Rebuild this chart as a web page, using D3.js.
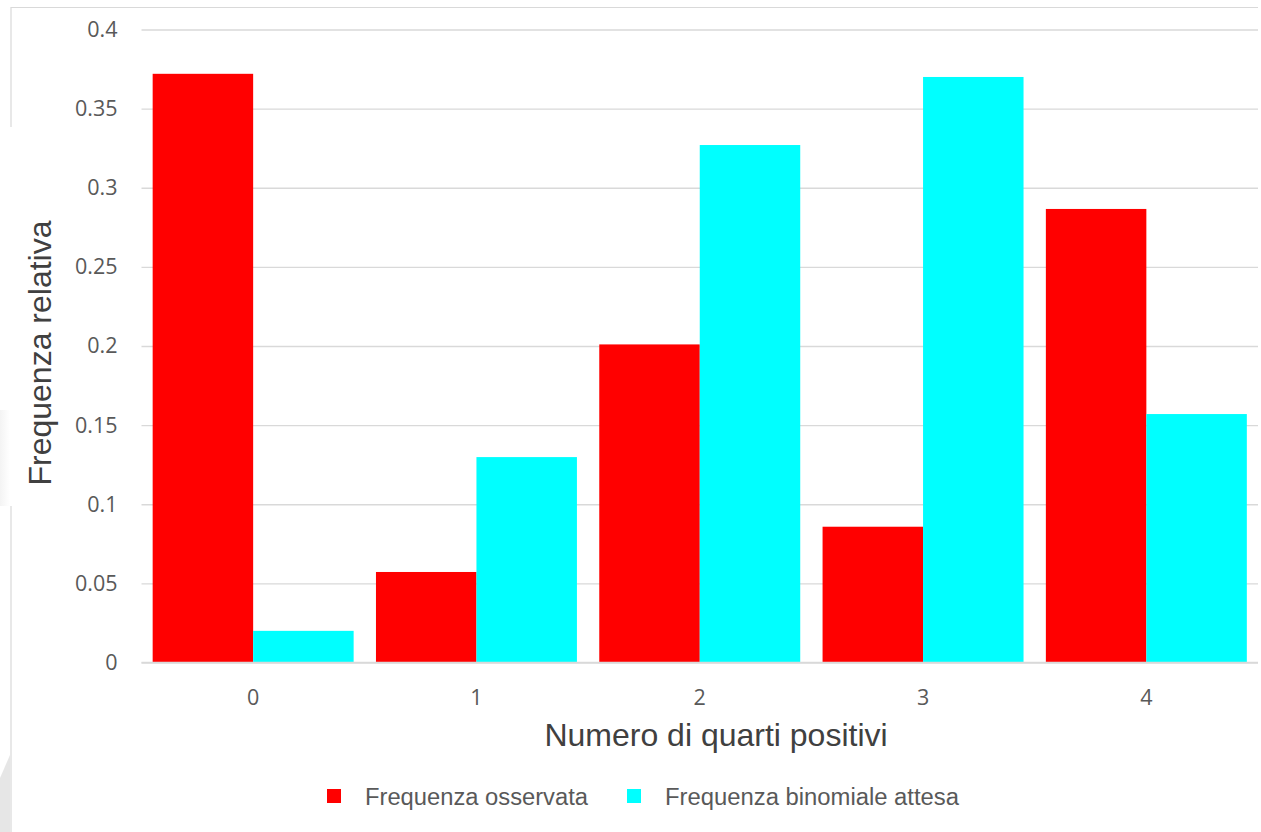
<!DOCTYPE html>
<html>
<head>
<meta charset="utf-8">
<script src="https://cdn.jsdelivr.net/npm/d3@7"></script>
<style>
  html, body { margin: 0; padding: 0; background: #fff; }
  svg { display: block; }
</style>
</head>
<body>
<svg id="chart" width="1261" height="832"></svg>
<script>
// Number of positive quarters, observed vs expected binomial relative frequencies
const categories = ["0", "1", "2", "3", "4"];
const observed = [0.372, 0.0572, 0.201, 0.0858, 0.2866];
const binomial = [0.02, 0.1298, 0.327, 0.370, 0.157];
const yTicks = [0, 0.05, 0.1, 0.15, 0.2, 0.25, 0.3, 0.35, 0.4];
const seriesNames = ["Frequenza osservata", "Frequenza binomiale attesa"];
const seriesColors = ["#ff0000", "#00ffff"];

const W = 1261, H = 832;
const margin = { left: 141.5, right: 3, top: 29.5, bottom: 169.5 };
const svg = d3.select("#chart");

// frame lines around the slide area
const frame = svg.append("g").attr("stroke", "#d9d9d9").attr("stroke-width", 1.2).attr("fill", "none");
frame.append("line").attr("x1", 10.5).attr("x2", 1258).attr("y1", 7.5).attr("y2", 7.5);
frame.append("line").attr("x1", 11).attr("x2", 11).attr("y1", 7.5).attr("y2", 127);
frame.append("line").attr("x1", 11).attr("x2", 11).attr("y1", 506).attr("y2", 832);

// soft grey shading at the left edge
const defs = svg.append("defs");
const grad = defs.append("linearGradient").attr("id", "edge").attr("x1", 0).attr("x2", 1);
grad.append("stop").attr("offset", 0).attr("stop-color", "#ececec");
grad.append("stop").attr("offset", 1).attr("stop-color", "#ffffff");
svg.append("rect").attr("x", 0).attr("y", 410).attr("width", 10).attr("height", 96).attr("fill", "url(#edge)").attr("opacity", 0.6);
svg.append("path").attr("d", "M0,778 L10,755 L10,832 L0,832 Z").attr("fill", "#d6d6d6").attr("opacity", 0.6);

const x = d3.scaleBand()
  .domain(categories)
  .range([margin.left, W - margin.right])
  .paddingInner(0.1)
  .paddingOuter(0.05);

const xs = d3.scaleBand()
  .domain([0, 1])
  .range([0, x.bandwidth()]);

const y = d3.scaleLinear()
  .domain([0, 0.4])
  .range([H - margin.bottom, margin.top]);

const tickFont = "'Open Sans', 'Noto Sans', sans-serif";

// horizontal gridlines
const yAxis = d3.axisLeft(y)
  .tickValues(yTicks)
  .tickSize(-(W - margin.right - margin.left))
  .tickPadding(24)
  .tickFormat(d => String(+d.toFixed(2)));

const gy = svg.append("g")
  .attr("transform", `translate(${margin.left},0)`)
  .call(yAxis);
gy.select(".domain").remove();
gy.selectAll(".tick line").attr("stroke", "#d9d9d9").attr("stroke-width", 1.3);
gy.selectAll(".tick text")
  .attr("fill", "#595959")
  .attr("font-family", tickFont)
  .attr("font-size", 21.5);

// bars
const rows = categories.map((c, i) => ({ cat: c, vals: [observed[i], binomial[i]] }));
const groups = svg.append("g").selectAll("g")
  .data(rows)
  .join("g")
  .attr("transform", d => `translate(${x(d.cat)},0)`);

groups.selectAll("rect")
  .data(d => d.vals.map((v, k) => ({ k, v })))
  .join("rect")
  .attr("x", d => xs(d.k))
  .attr("width", xs.bandwidth())
  .attr("y", d => y(d.v))
  .attr("height", d => y(0) - y(d.v))
  .attr("fill", d => seriesColors[d.k]);

// x axis baseline and labels
const xAxis = d3.axisBottom(x).tickSize(0).tickPadding(27);
const gx = svg.append("g")
  .attr("transform", `translate(0,${y(0)})`)
  .call(xAxis);
gx.select(".domain").attr("stroke", "#d9d9d9").attr("stroke-width", 1.5)
  .attr("d", `M${margin.left},0H${W - margin.right}`);
gx.selectAll(".tick text")
  .attr("fill", "#595959")
  .attr("font-family", tickFont)
  .attr("font-size", 21.5);

// axis titles
svg.append("text")
  .attr("x", 716)
  .attr("y", 746)
  .attr("text-anchor", "middle")
  .attr("fill", "#404040")
  .attr("font-family", "'Liberation Sans', Arial, sans-serif")
  .attr("font-size", 32)
  .text("Numero di quarti positivi");

svg.append("text")
  .attr("transform", "translate(51,353) rotate(-90)")
  .attr("text-anchor", "middle")
  .attr("fill", "#404040")
  .attr("font-family", "'Liberation Sans', Arial, sans-serif")
  .attr("font-size", 32)
  .text("Frequenza relativa");

// legend
const legendX = [327, 627];
const legendLen = [223, 294];
const legend = svg.append("g");
seriesNames.forEach((name, k) => {
  legend.append("rect")
    .attr("x", legendX[k])
    .attr("y", 789)
    .attr("width", 14)
    .attr("height", 14)
    .attr("fill", seriesColors[k]);
  legend.append("text")
    .attr("x", legendX[k] + 38)
    .attr("y", 805)
    .attr("fill", "#595959")
    .attr("font-family", "'Liberation Sans', Arial, sans-serif")
    .attr("font-size", 23)
    .attr("textLength", legendLen[k])
    .attr("lengthAdjust", "spacingAndGlyphs")
    .text(name);
});
</script>
</body>
</html>
